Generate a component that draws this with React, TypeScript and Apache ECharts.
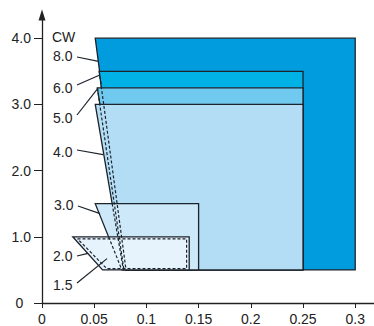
import React, { useEffect, useRef } from 'react';
import * as echarts from 'echarts';

const xTicks = [0, 0.05, 0.1, 0.15, 0.2, 0.25, 0.3];
const yTicks = [0, 1, 2, 3, 4];

// CW polygons (x = data x, y = data y), back to front
const cw80 = [[0.051, 4.0], [0.30, 4.0], [0.30, 0.5], [0.08, 0.5]];
const cw60 = [[0.0548, 3.5], [0.25, 3.5], [0.25, 0.5], [0.08, 0.5]];
const cw50 = [[0.053, 3.25], [0.25, 3.25], [0.25, 0.5], [0.08, 0.5]];
const cw40 = [[0.051, 3.0], [0.25, 3.0], [0.25, 0.5], [0.078, 0.5]];
const cw30 = [[0.051, 1.5], [0.15, 1.5], [0.15, 0.5], [0.0765, 0.5]];
const cw20 = [[0.0295, 1.0], [0.141, 1.0], [0.141, 0.5], [0.058, 0.5]];
const cw15 = [[0.034, 0.97], [0.1385, 0.97], [0.1385, 0.52], [0.062, 0.52], [0.034, 0.97]];

// hidden edges (dashed)
const hidden60 = [[0.0548, 3.5], [0.0805, 0.5]];
const hidden50 = [[0.053, 3.25], [0.0785, 0.5]];
const hidden40 = [[0.0672, 1.5], [0.078, 0.5]];
const hidden30 = [[0.0638, 1.0], [0.0765, 0.5]];

const cwLabels = ['CW', '8.0', '6.0', '5.0', '4.0', '3.0', '2.0', '1.5'];
// leader targets in data coordinates (null = no leader)
const leaderTargets: (number[] | null)[] = [
  null,
  [0.0542, 3.65],
  [0.0548, 3.44],
  [0.0535, 3.24],
  [0.0585, 2.24],
  [0.0556, 1.35],
  [0.0441, 0.75],
  [0.0623, 0.67],
];

const fills = ['#009cde', '#00b2e5', '#70caef', '#b2ddf4', '#cde8f8', '#e6f3fc'];

export default function App() {
  const ref = useRef<HTMLDivElement>(null);
  useEffect(() => {
    const chart = echarts.init(ref.current!, null, { renderer: 'svg' });
    const polys = [cw80, cw60, cw50, cw40, cw30, cw20];
    const dashed = [hidden60, hidden50, hidden40, hidden30, cw15];
    const stroke = '#1c232b';
    const font = 'Liberation Sans';
    const fs = 14;
    chart.setOption({
      animation: false,
      grid: { left: 42, right: 0, top: 15, bottom: 20 },
      xAxis: {
        type: 'value',
        min: 0,
        max: 0.318,
        splitLine: { show: false },
        axisLine: { lineStyle: { color: '#222', width: 1.3 } },
        axisTick: { customValues: xTicks, length: 5, lineStyle: { color: '#222', width: 1 } },
        axisLabel: {
          customValues: xTicks,
          margin: 9,
          color: '#222',
          fontSize: fs,
          fontFamily: font,
          formatter: (v: number) => String(v),
        },
      },
      yAxis: {
        type: 'value',
        min: 0,
        max: 4.35,
        splitLine: { show: false },
        axisLine: {
          show: true,
          symbol: ['none', 'triangle'],
          symbolSize: [7, 11],
          lineStyle: { color: '#222', width: 1.3 },
        },
        axisTick: { show: true, customValues: yTicks, length: 8, lineStyle: { color: '#222', width: 1 } },
        axisLabel: {
          customValues: yTicks,
          margin: 11,
          color: '#222',
          fontSize: fs,
          fontFamily: font,
          formatter: (v: number) => (v === 0 ? '0  ' : v.toFixed(1)),
        },
      },
      series: [
        {
          type: 'custom',
          clip: false,
          data: polys.map((_, i) => [i]),
          renderItem: (params: any, api: any) => {
            const pts = polys[params.dataIndex];
            return {
              type: 'polygon',
              shape: { points: pts.map((p) => api.coord(p)) },
              style: { fill: fills[params.dataIndex], stroke, lineWidth: 1.3 },
            };
          },
        },
        {
          type: 'custom',
          clip: false,
          data: dashed.map((_, i) => [i]),
          renderItem: (params: any, api: any) => {
            const pts = dashed[params.dataIndex];
            return {
              type: 'polyline',
              shape: { points: pts.map((p) => api.coord(p)) },
              style: { fill: null, stroke, lineWidth: 1.2, lineDash: [3, 2] },
            };
          },
        },
      ],
    });

    const labelPos = [
      [52, 37], [53, 56], [53, 88], [53, 118], [53, 152], [54, 205], [53, 256], [53, 285],
    ];
    const leaderStart = [
      null, [77, 57], [77, 85], [77, 115], [77, 150], [78, 206], [77, 256], [77, 283],
    ];
    const graphic: any[] = [];
    cwLabels.forEach((t, i) => {
      graphic.push({
        type: 'text',
        x: labelPos[i][0],
        y: labelPos[i][1],
        style: { text: t, fontSize: fs, fontFamily: font, fill: '#222', verticalAlign: 'middle', align: 'left' },
        z: 10,
      });
      const tgt = leaderTargets[i];
      const st = leaderStart[i];
      if (tgt && st) {
        const p = chart.convertToPixel({ xAxisIndex: 0, yAxisIndex: 0 }, tgt) as number[];
        graphic.push({
          type: 'line',
          shape: { x1: st[0], y1: st[1], x2: p[0], y2: p[1] },
          style: { stroke, lineWidth: 1.2 },
          z: 10,
        });
      }
    });
    chart.setOption({ graphic });
    return () => chart.dispose();
  }, []);
  return <div ref={ref} style={{ width: 374, height: 326, position: 'absolute', left: 0, top: 0 }} />;
}
